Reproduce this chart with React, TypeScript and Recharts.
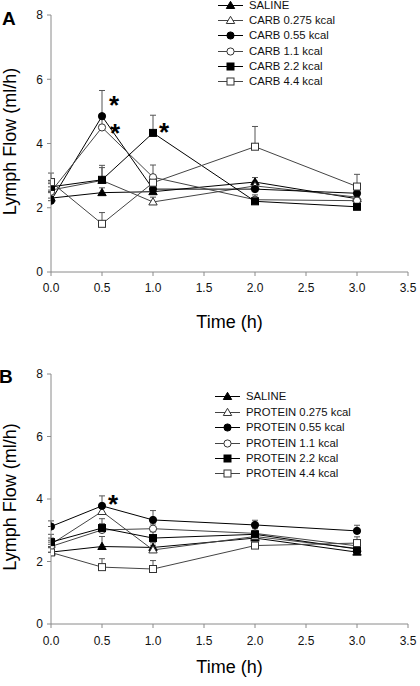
import React from 'react';
import { LineChart, Line, XAxis, YAxis, ErrorBar, Legend, Label } from 'recharts';

const FONT = '"Liberation Sans", Arial, Helvetica, sans-serif';

// ---------- data ----------
const times = [0, 0.5, 1, 2, 3];
const xTicks = [0, 0.5, 1, 1.5, 2, 2.5, 3, 3.5];
const yTicks = [0, 2, 4, 6, 8];

const carbNames = ['SALINE', 'CARB 0.275 kcal', 'CARB 0.55 kcal', 'CARB 1.1 kcal', 'CARB 2.2 kcal', 'CARB 4.4 kcal'];
const proteinNames = ['SALINE', 'PROTEIN 0.275 kcal', 'PROTEIN 0.55 kcal', 'PROTEIN 1.1 kcal', 'PROTEIN 2.2 kcal', 'PROTEIN 4.4 kcal'];

// Panel A (carbohydrate)
const carbSaline = [2.3, 2.47, 2.5, 2.8, 2.28];
const carb0275 = [2.55, 2.85, 2.18, 2.68, 2.33];
const carb055 = [2.22, 4.85, 2.58, 2.58, 2.45];
const carb11 = [2.5, 4.5, 2.95, 2.25, 2.22];
const carb22 = [2.65, 2.87, 4.33, 2.2, 2.03];
const carb44 = [2.8, 1.5, 2.78, 3.9, 2.66];

const carbSalineErr = [0.2, 0.15, 0.15, 0.14, 0.15];
const carb0275Err = [0.3, 0.4, 0.15, 0.15, 0.15];
const carb055Err = [0.25, 0.8, 0.2, 0.15, 0.15];
const carb11Err = [0.25, 0.3, 0.38, 0.15, 0.15];
const carb22Err = [0.2, 0.45, 0.55, 0.1, 0.1];
const carb44Err = [0.28, 0.35, 0.2, 0.63, 0.38];

const carbSig055 = [false, true, false, false, false];
const carbSig11 = [false, true, false, false, false];
const carbSig22 = [false, false, true, false, false];

// Panel B (protein)
const protSaline = [2.3, 2.48, 2.45, 2.75, 2.3];
const prot0275 = [2.55, 3.6, 2.37, 2.8, 2.42];
const prot055 = [3.12, 3.78, 3.33, 3.17, 2.98];
const prot11 = [2.48, 3.01, 3.05, 2.9, 2.5];
const prot22 = [2.62, 3.07, 2.75, 2.87, 2.4];
const prot44 = [2.29, 1.82, 1.76, 2.51, 2.59];

const protSalineErr = [0.15, 0.32, 0.15, 0.1, 0.1];
const prot0275Err = [0.2, 0.25, 0.15, 0.1, 0.1];
const prot055Err = [0.18, 0.32, 0.3, 0.15, 0.18];
const prot11Err = [0.2, 0.2, 0.15, 0.15, 0.1];
const prot22Err = [0.25, 0.3, 0.2, 0.1, 0.1];
const prot44Err = [0.15, 0.27, 0.27, 0.1, 0.2];

const protSig055 = [false, true, false, false, false];
const noSig = [false, false, false, false, false];

// ---------- styles ----------
type Shape = 'triangle' | 'circle' | 'square';
const seriesStyle: { shape: Shape; filled: boolean; line: string }[] = [
  { shape: 'triangle', filled: true, line: '#000' },
  { shape: 'triangle', filled: false, line: '#444' },
  { shape: 'circle', filled: true, line: '#000' },
  { shape: 'circle', filled: false, line: '#444' },
  { shape: 'square', filled: true, line: '#000' },
  { shape: 'square', filled: false, line: '#444' },
];

const Marker = ({ cx, cy, shape, filled }: { cx: number; cy: number; shape: Shape; filled: boolean }) => {
  if (cx == null || cy == null || isNaN(cx) || isNaN(cy)) return <g />;
  const fill = filled ? '#000' : '#fff';
  const stroke = filled ? '#000' : '#333';
  if (shape === 'circle') return <circle cx={cx} cy={cy} r={3.6} fill={fill} stroke={stroke} strokeWidth={1} />;
  if (shape === 'square') return <rect x={cx - 3.5} y={cy - 3.5} width={7} height={7} fill={fill} stroke={stroke} strokeWidth={1} />;
  return (
    <polygon
      points={`${cx},${cy - 4.2} ${cx + 4.2},${cy + 3} ${cx - 4.2},${cy + 3}`}
      fill={fill}
      stroke={stroke}
      strokeWidth={1}
    />
  );
};

const buildRows = (vals: number[][], errs: number[][]) =>
  times.map((t, i) => {
    const row: Record<string, any> = { t };
    vals.forEach((v, k) => {
      row[`s${k}`] = v[i];
      row[`e${k}`] = [0, errs[k][i]];
    });
    return row;
  });

const carbRows = buildRows(
  [carbSaline, carb0275, carb055, carb11, carb22, carb44],
  [carbSalineErr, carb0275Err, carb055Err, carb11Err, carb22Err, carb44Err]
);
const protRows = buildRows(
  [protSaline, prot0275, prot055, prot11, prot22, prot44],
  [protSalineErr, prot0275Err, prot055Err, prot11Err, prot22Err, prot44Err]
);

const carbSig = [noSig, noSig, carbSig055, carbSig11, carbSig22, noSig];
const protSig = [noSig, noSig, protSig055, noSig, noSig, noSig];
// asterisk offsets (px) per series, relative to the marked point
const carbStarOffset = [
  [0, 0], [0, 0], [12, -17], [13, 0], [11, -7], [0, 0],
];
const protStarOffset = [
  [0, 0], [0, 0], [11, -8], [0, 0], [0, 0], [0, 0],
];

const LegendBox = ({ names }: { names: string[] }) => (
  <div style={{ fontFamily: FONT, fontSize: 11.3, color: '#111' }}>
    {names.map((n, i) => (
      <div key={i} style={{ display: 'flex', alignItems: 'center', height: 15.4 }}>
        <svg width={25} height={15} style={{ display: 'block', overflow: 'visible' }}>
          <line x1={0} y1={7.5} x2={25} y2={7.5} stroke={seriesStyle[i].line} strokeWidth={1} />
          <Marker cx={12.5} cy={7.5} shape={seriesStyle[i].shape} filled={seriesStyle[i].filled} />
        </svg>
        <span style={{ marginLeft: 6, whiteSpace: 'nowrap', lineHeight: '15px' }}>{n}</span>
      </div>
    ))}
  </div>
);

type PanelProps = {
  rows: Record<string, any>[];
  names: string[];
  sig: boolean[][];
  starOffset: number[][];
  marginTop: number;
  xAxisHeight: number;
  tickMarginX: number;
  xLabelDy: number;
  legendLeft: number;
  legendTop: number;
};

const Panel = (p: PanelProps) => (
  <LineChart
    width={420}
    height={343}
    data={p.rows}
    margin={{ top: p.marginTop, right: 12, left: 11, bottom: 0 }}
  >
    <XAxis
      dataKey="t"
      type="number"
      domain={[0, 3.5]}
      ticks={xTicks}
      tickFormatter={(v: number) => v.toFixed(1)}
      height={p.xAxisHeight}
      tickSize={4}
      tickMargin={p.tickMarginX}
      stroke="#8a8a8a"
      tick={{ fill: '#111', fontSize: 12, fontFamily: FONT }}
      allowDataOverflow
    >
      <Label
        content={(lp: any) => {
          const vb = lp.viewBox || {};
          const x = vb.x + vb.width / 2;
          const y = vb.y + p.xLabelDy;
          return (
            <text x={x} y={y} textAnchor="middle" fontSize={18} fontFamily={FONT} fill="#000">
              Time (h)
            </text>
          );
        }}
      />
    </XAxis>
    <YAxis
      type="number"
      domain={[0, 8]}
      ticks={yTicks}
      width={40}
      tickSize={4}
      tickMargin={4}
      stroke="#8a8a8a"
      tick={{ fill: '#111', fontSize: 12, fontFamily: FONT }}
    >
      <Label
        content={(lp: any) => {
          const vb = lp.viewBox || {};
          const x = vb.x + 5;
          const y = vb.y + vb.height / 2 - 2;
          return (
            <text
              x={x}
              y={y}
              transform={`rotate(-90 ${x} ${y})`}
              textAnchor="middle"
              fontSize={18}
              fontFamily={FONT}
              fill="#000"
            >
              Lymph Flow (ml/h)
            </text>
          );
        }}
      />
    </YAxis>
    <Legend
      layout="vertical"
      align="center"
      verticalAlign="middle"
      content={() => <LegendBox names={p.names} />}
      wrapperStyle={{ left: p.legendLeft, top: p.legendTop, width: 200, height: 'auto' }}
    />
    {seriesStyle.map((st, k) => (
      <Line
        key={k}
        dataKey={`s${k}`}
        name={p.names[k]}
        stroke={st.line}
        strokeWidth={1}
        isAnimationActive={false}
        activeDot={false}
        dot={(dp: any) => (
          <Marker key={`d${k}-${dp.index}`} cx={dp.cx} cy={dp.cy} shape={st.shape} filled={st.filled} />
        )}
        label={(lp: any) => {
          const idx = lp.index;
          if (!p.sig[k][idx]) return <g key={`l${k}-${idx}`} />;
          const [dx, dy] = p.starOffset[k];
          return (
            <text
              key={`l${k}-${idx}`}
              x={lp.x + dx}
              y={lp.y + dy + 15}
              textAnchor="middle"
              fontSize={26}
              fontWeight="bold"
              fontFamily={FONT}
              fill="#000"
            >
              *
            </text>
          );
        }}
      >
        <ErrorBar dataKey={`e${k}`} direction="y" width={3} stroke="#555" strokeWidth={1} isAnimationActive={false} />
      </Line>
    ))}
  </LineChart>
);

const letterStyle: React.CSSProperties = {
  position: 'absolute',
  fontFamily: FONT,
  fontWeight: 'bold',
  fontSize: 19,
  lineHeight: '19px',
  color: '#000',
};

export default function App() {
  return (
    <div style={{ position: 'absolute', left: 0, top: 0, width: 420, height: 686, background: '#fff', overflow: 'hidden' }}>
      <div style={{ position: 'absolute', left: 0, top: 0 }}>
        <Panel
          rows={carbRows}
          names={carbNames}
          sig={carbSig}
          starOffset={carbStarOffset}
          marginTop={15}
          xAxisHeight={71}
          tickMarginX={7}
          xLabelDy={56}
          legendLeft={218}
          legendTop={-2.7}
        />
      </div>
      <div style={{ position: 'absolute', left: 0, top: 343 }}>
        <Panel
          rows={protRows}
          names={proteinNames}
          sig={protSig}
          starOffset={protStarOffset}
          marginTop={31}
          xAxisHeight={62}
          tickMarginX={8}
          xLabelDy={49}
          legendLeft={215}
          legendTop={46.3}
        />
      </div>
      <div style={{ ...letterStyle, left: 2, top: 9 }}>A</div>
      <div style={{ ...letterStyle, left: -1, top: 367 }}>B</div>
    </div>
  );
}
